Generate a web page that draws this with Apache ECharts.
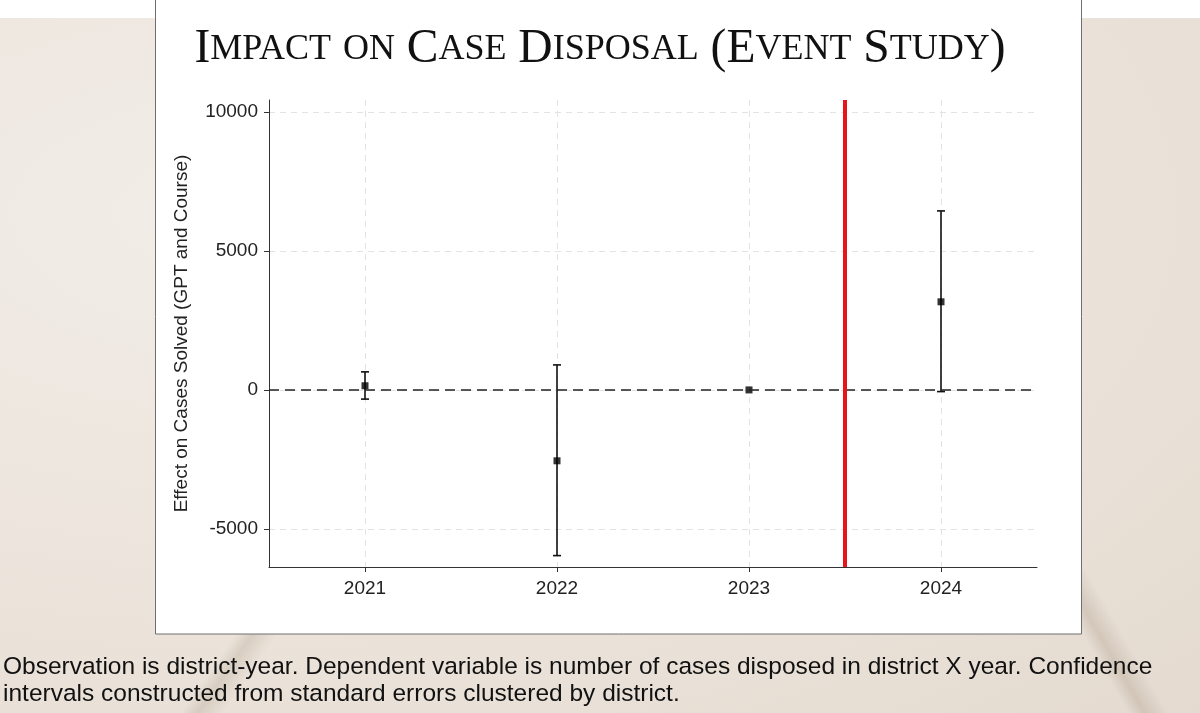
<!DOCTYPE html>
<html>
<head>
    <meta charset="utf-8">
    <title>Impact on Case Disposal (Event Study)</title>
    <script src="https://cdn.jsdelivr.net/npm/echarts@6/dist/echarts.min.js"></script>
    <style>
        html, body {
            margin: 0;
            padding: 0;
            width: 1200px;
            height: 713px;
            overflow: hidden;
            /* marble-ish slide background */
            background:
                linear-gradient(125deg, rgba(255,255,255,0) 40%, rgba(150,130,105,0.22) 41%, rgba(255,255,255,0) 42.5%),
                linear-gradient(60deg, rgba(255,255,255,0) 70%, rgba(140,120,95,0.22) 71%, rgba(255,255,255,0) 72.5%),
                radial-gradient(ellipse at 20% 30%, #f2ede8 0%, #ebe3da 60%, #e4dad0 100%);
        }
        #main {
            width: 1200px;
            height: 713px;
        }
    </style>
</head>
<body>
    <div id="main"></div>
    <script>
        var myChart = echarts.init(document.getElementById('main'));

        // 数据
        const titleText = 'Impact on Case Disposal (Event Study)';
        const yAxisName = 'Effect on Cases Solved (GPT and Course)';
        const captionLines = [
            'Observation is district-year. Dependent variable is number of cases disposed in district X year. Confidence',
            'intervals constructed from standard errors clustered by district.'
        ];
        const years = [2021, 2022, 2023, 2024];
        const estimates = [150, -2550, 0, 3170];
        const ciLow = [-330, -5960, 0, -60];
        const ciHigh = [650, 900, 0, 6440];
        const yTicks = [-5000, 0, 5000, 10000];
        const eventTime = 2023.5;

        // 小型大写字母标题 (rich text)
        function smallCaps(str) {
            let out = '';
            let cur = null, buf = '';
            for (const ch of str) {
                const kind = (ch >= 'a' && ch <= 'z') ? 's' : 'b';
                if (kind !== cur) {
                    if (buf) out += '{' + cur + '|' + buf + '}';
                    buf = '';
                    cur = kind;
                }
                buf += ch.toUpperCase();
            }
            if (buf) out += '{' + cur + '|' + buf + '}';
            return out;
        }

        const pointData = years.map((y, i) => [y, estimates[i]]);
        const barData = years.map((y, i) => [y, ciLow[i], ciHigh[i]]);

        const option = {
            animation: false,
            backgroundColor: 'transparent',
            title: {
                text: smallCaps(titleText),
                left: 'center',
                top: 21,
                textStyle: {
                    fontWeight: 'normal',
                    rich: {
                        b: { fontFamily: 'Liberation Serif', fontWeight: 'normal', fontSize: 47.5, color: '#111' },
                        s: { fontFamily: 'Liberation Serif', fontWeight: 'normal', fontSize: 36, color: '#111' }
                    }
                }
            },
            graphic: [
                {
                    type: 'rect', z: -10, silent: true,
                    shape: { x: 0, y: 0, width: 1200, height: 18 },
                    style: { fill: '#fff' }
                },
                {
                    type: 'rect', z: -10, silent: true,
                    shape: { x: 155.5, y: -2, width: 926, height: 636 },
                    style: { fill: '#fff', stroke: '#6f6f6f', lineWidth: 1 }
                },
                {
                    type: 'text', left: 3, top: 654, silent: true,
                    style: {
                        text: captionLines.join('\n'),
                        fontFamily: 'Liberation Sans',
                        fontSize: 24.5,
                        lineHeight: 27,
                        fill: '#111'
                    }
                }
            ],
            grid: {
                left: 269,
                right: 163,
                top: 100,
                bottom: 146
            },
            xAxis: {
                type: 'value',
                min: 2020.5,
                max: 2024.5,
                axisLine: { show: true, onZero: false, lineStyle: { color: '#333', width: 1 } },
                axisTick: { show: true, customValues: years, length: 5, lineStyle: { color: '#333' } },
                axisLabel: {
                    customValues: years,
                    formatter: v => String(v),
                    margin: 12,
                    fontFamily: 'Liberation Sans',
                    fontSize: 19,
                    color: '#222'
                },
                splitLine: { show: true, lineStyle: { color: '#e3e3e3', type: [6, 5], width: 1 } }
            },
            yAxis: {
                type: 'value',
                min: -6370,
                max: 10430,
                name: yAxisName,
                nameLocation: 'middle',
                nameGap: 78,
                nameTextStyle: { fontFamily: 'Liberation Sans', fontSize: 19, color: '#222' },
                axisLine: { show: true, lineStyle: { color: '#333', width: 1 } },
                axisTick: { show: true, customValues: yTicks, length: 5, lineStyle: { color: '#333' } },
                axisLabel: {
                    customValues: yTicks,
                    formatter: v => String(v),
                    margin: 11,
                    fontFamily: 'Liberation Sans',
                    fontSize: 19,
                    color: '#222'
                },
                splitLine: { show: true, lineStyle: { color: '#e3e3e3', type: [6, 5], width: 1 } }
            },
            series: [
                {
                    // 置信区间
                    type: 'custom',
                    z: 3,
                    renderItem: function (params, api) {
                        const x = api.value(0);
                        const lo = api.value(1), hi = api.value(2);
                        if (lo === hi) return;
                        const p1 = api.coord([x, lo]);
                        const p2 = api.coord([x, hi]);
                        const w = 4;
                        const st = { stroke: '#111', lineWidth: 1.6 };
                        return {
                            type: 'group',
                            children: [
                                { type: 'line', shape: { x1: p1[0], y1: p1[1], x2: p2[0], y2: p2[1] }, style: st },
                                { type: 'line', shape: { x1: p1[0] - w, y1: p1[1], x2: p1[0] + w, y2: p1[1] }, style: st },
                                { type: 'line', shape: { x1: p2[0] - w, y1: p2[1], x2: p2[0] + w, y2: p2[1] }, style: st }
                            ]
                        };
                    },
                    data: barData
                },
                {
                    type: 'scatter',
                    z: 4,
                    symbol: 'rect',
                    symbolSize: 7,
                    itemStyle: { color: '#000' },
                    data: pointData,
                    markLine: {
                        silent: true,
                        symbol: 'none',
                        label: { show: false },
                        data: [
                            { yAxis: 0, lineStyle: { color: '#222', type: [10, 6], width: 1.6 } },
                            { xAxis: eventTime, lineStyle: { color: '#e8141c', type: 'solid', width: 4 } }
                        ]
                    }
                }
            ]
        };

        myChart.setOption(option);
    </script>
</body>
</html>
